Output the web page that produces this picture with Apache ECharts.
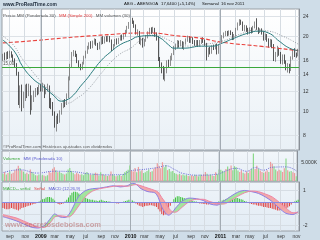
<!DOCTYPE html>
<html><head><meta charset="utf-8">
<script src="https://cdn.jsdelivr.net/npm/echarts@6/dist/echarts.min.js"></script>
<style>html,body{margin:0;padding:0;background:#cfdde8}#c{width:320px;height:240px}</style>
</head><body><div id="c"></div>
<script>
// ---- data ----
const firstWeek = [2008, 7, 4];   // Monday 4 Aug 2008, weekly bars
const weekCount = 172;
const monthNames = ['ene','feb','mar','abr','may','jun','jul','ago','sep','oct','nov','dic'];
// [open, close, low, high]
const ohlc = [
[16.2,16.8,15.9,17.0],[16.8,16.3,16.0,17.2],[16.3,16.9,16.1,17.3],[16.9,16.5,16.2,17.4],[16.5,17.2,16.3,17.5],
[17.2,16.6,16.4,17.4],[16.6,16.1,15.8,16.9],[16.1,15.3,15.0,16.3],[15.3,14.2,13.9,15.6],[14.2,11.0,10.6,14.4],
[11.0,12.2,10.3,12.7],[12.2,10.6,10.0,12.8],[10.6,11.6,10.3,12.0],[11.6,12.5,11.0,12.8],[12.5,12.0,11.3,12.9],
[12.0,12.6,11.5,12.9],[12.6,10.4,9.7,12.7],[10.4,11.3,10.1,11.6],[11.3,11.8,10.9,12.1],[11.8,12.2,11.4,12.4],
[12.2,11.9,11.6,12.5],[11.9,12.6,11.7,12.8],[12.6,12.3,12.0,12.9],[12.3,12.7,12.0,13.0],[12.7,12.1,11.3,12.8],
[12.1,12.4,11.7,12.5],[12.4,12.6,12.0,12.9],[12.6,11.0,10.3,12.7],[11.0,10.6,10.2,11.3],[10.6,9.8,9.6,10.9],
[9.8,8.8,8.6,10.0],[8.8,9.4,8.3,9.6],[9.4,9.2,8.9,9.8],[9.2,9.9,9.0,10.1],[9.9,10.6,9.7,10.8],
[10.6,10.9,10.3,11.1],[10.9,10.7,10.4,11.2],[10.7,11.4,10.6,11.8],[11.4,13.5,11.3,13.8],[13.5,15.2,13.3,15.5],
[15.2,16.9,15.0,17.3],[16.9,17.2,16.6,17.6],[17.2,16.9,16.5,17.5],[16.9,15.9,15.6,17.0],[15.9,15.4,14.9,16.0],
[15.4,14.9,14.6,15.5],[14.9,15.6,14.7,15.8],[15.6,16.5,15.4,16.7],[16.5,17.3,16.3,17.5],[17.3,18.0,17.0,18.3],
[18.0,18.6,17.7,18.9],[18.6,18.2,17.8,19.1],[18.2,18.9,17.9,19.2],[18.9,19.3,18.5,19.6],[19.3,18.6,18.3,19.5],
[18.6,17.9,17.6,18.8],[17.9,18.8,17.7,19.0],[18.8,19.5,18.5,19.9],[19.5,19.0,18.6,20.0],[19.0,19.6,18.7,19.9],
[19.6,19.3,19.0,20.0],[19.3,19.8,19.0,20.1],[19.8,19.2,18.9,20.0],[19.2,17.8,17.4,19.4],[17.8,18.4,17.6,18.6],
[18.4,19.2,18.2,19.5],[19.2,18.8,18.5,19.6],[18.8,19.5,18.6,19.7],[19.5,19.9,19.2,20.2],[19.9,19.6,19.2,20.3],
[19.6,20.1,19.4,20.4],[20.1,20.9,19.9,21.2],[20.9,21.7,20.6,22.0],[21.7,22.5,21.4,22.8],[22.5,23.2,22.1,23.6],
[23.2,22.9,22.4,23.7],[22.9,22.0,21.6,23.1],[22.0,20.6,20.3,22.3],[20.6,20.9,20.1,21.3],[20.9,19.0,18.6,21.0],
[19.0,19.5,18.4,19.8],[19.5,18.5,18.0,19.7],[18.5,19.2,18.2,19.5],[19.2,19.9,19.0,20.2],[19.9,20.6,19.6,20.9],
[20.6,21.2,20.3,21.6],[21.2,20.8,20.4,21.7],[20.8,21.4,20.6,21.8],[21.4,20.3,19.9,21.6],[20.3,19.8,19.2,20.7],
[19.8,16.2,15.9,20.0],[16.2,15.4,14.9,16.5],[15.4,15.0,14.2,15.7],[15.0,14.0,13.4,15.2],[14.0,14.6,13.2,14.9],
[14.6,15.8,14.2,16.0],[15.8,15.4,15.0,16.1],[15.4,16.4,15.2,16.7],[16.4,16.9,16.0,17.1],[16.9,18.0,16.8,18.3],
[18.0,18.3,17.6,18.6],[18.3,18.9,17.9,19.3],[18.9,18.5,18.0,19.2],[18.5,19.0,18.2,19.3],[19.0,18.2,17.8,19.1],
[18.2,18.8,17.6,19.0],[18.8,19.4,18.5,19.6],[19.4,19.8,19.0,20.1],[19.8,19.1,18.8,20.0],[19.1,19.6,18.8,19.9],
[19.6,19.0,18.6,19.8],[19.0,18.6,18.3,19.3],[18.6,19.1,18.2,19.3],[19.1,18.5,18.1,19.3],[18.5,19.0,18.2,19.3],
[19.0,19.5,18.6,19.7],[19.5,19.2,18.8,19.8],[19.2,18.6,18.3,19.4],[18.6,17.2,16.0,18.8],[17.2,17.8,16.5,18.0],
[17.8,17.3,16.9,18.1],[17.3,18.2,17.0,18.4],[18.2,18.0,17.6,18.5],[18.0,18.4,17.7,18.6],[18.4,17.2,16.9,18.7],
[17.2,18.3,17.0,18.5],[18.3,19.2,18.0,19.4],[19.2,19.9,18.9,20.2],[19.9,20.4,19.6,20.7],[20.4,20.8,20.0,21.0],
[20.8,20.3,20.0,21.0],[20.3,20.9,20.1,21.1],[20.9,20.5,20.2,21.1],[20.5,19.6,19.3,20.8],[19.6,20.1,19.3,20.4],
[20.1,21.3,19.9,21.6],[21.3,22.4,21.1,22.7],[22.4,23.0,22.0,23.4],[23.0,22.6,22.2,23.3],[22.6,21.3,21.0,22.9],
[21.3,21.9,20.9,22.2],[21.9,21.2,20.8,22.1],[21.2,20.6,20.3,21.6],[20.6,21.4,20.4,21.7],[21.4,20.9,20.5,21.7],
[20.9,21.8,20.6,22.0],[21.8,22.5,21.5,22.9],[22.5,21.5,21.2,23.6],[21.5,21.0,20.4,21.7],[21.0,21.3,20.6,21.5],
[21.3,20.7,20.3,21.5],[20.7,19.6,19.2,20.9],[19.6,20.2,19.3,20.5],[20.2,19.3,19.0,20.4],[19.3,18.4,18.0,19.6],
[18.4,19.2,18.1,19.5],[19.2,18.3,17.9,19.4],[18.3,16.2,15.9,18.6],[16.2,16.9,15.8,17.3],[16.9,17.8,16.5,18.3],
[17.8,17.1,16.7,18.0],[17.1,16.0,15.5,17.3],[16.0,16.6,15.4,16.9],[16.6,15.8,15.5,16.9],[15.8,14.9,14.6,16.0],
[14.9,15.3,14.3,15.6],[15.3,14.6,14.2,15.5],[14.6,16.3,14.5,16.6],[16.3,17.3,16.1,17.7],[17.3,16.8,16.5,17.9],
[16.8,16.78,16.4,17.2],[16.78,17.64,16.6,17.8]
];
// weekly volume, thousands of shares
const volume = [
2000,2500,1800,2200,2600,2000,2300,3000,3400,4200,
3600,3000,2600,2000,2300,1900,3200,2500,2000,1600,
1500,1800,1400,1700,1500,1300,1600,2600,2300,3400,
3800,3000,2400,2600,2200,2000,1800,2100,3200,3600,
2800,2200,1900,2300,2000,1700,1900,1600,2200,2500,
2000,1800,1700,2000,2300,2100,1500,2400,1900,1700,
1500,1400,1600,2600,1800,1500,1300,1500,1700,1400,
1900,2400,2800,3100,4300,3000,2600,3600,2400,3900,
2700,3000,2200,2400,2800,3200,2500,2700,3400,3800,
4900,4200,3500,5200,3800,4400,3000,3300,2600,2800,
2200,2000,1800,2000,1600,1800,1500,1700,1400,1300,
1600,1400,1700,1500,1300,1800,1500,1900,2500,2000,
1600,1800,1500,1400,2400,1900,3200,3100,2800,2500,
3300,4000,3400,4300,3000,4100,3800,2900,2500,3000,
2300,2100,2600,2200,2900,3300,7600,3300,4200,3300,
2900,2500,2200,2600,3000,2500,5300,4800,4100,3200,
2700,3100,2900,2500,3500,6200,3000,2600,2800,2400,
2200,1295
];
// moving averages: [week index, value]
const wma30 = [[0,19.3],[4,18.24],[8,16.83],[11,15.3],[17,13.58],[23,12.61],[29,11.64],[34,10.98],[37,11.11],[41,11.64],[45,12.61],[49,13.58],[52,14.48],[57,16.0],[62,17.2],[68,18.5],[74,19.3],[78,19.9],[86,20.1],[91,19.7],[96,18.46],[99,17.91],[105,17.91],[115,18.24],[121,18.24],[127,18.76],[134,19.64],[142,20.57],[148,20.95],[154,20.57],[160,19.11],[166,17.91],[171,17.5]];
const sma200 = [[0,18.8],[10,19.0],[57,20.2],[86,20.6],[100,20.1],[115,19.6],[127,18.9],[150,18.2],[171,17.5]];
const vwma30 = [[0,20.0],[6,18.46],[11,16.33],[17,14.48],[23,12.96],[29,11.82],[34,11.11],[37,10.78],[43,11.29],[49,12.19],[57,14.2],[62,15.6],[68,17.0],[74,17.9],[80,19.3],[88,20.2],[96,19.3],[102,18.46],[111,18.24],[115,18.46],[127,19.11],[139,20.57],[146,21.15],[154,20.95],[162,20.01],[168,19.11],[171,18.59]];
const volMa10 = [[0,2300],[10,3100],[20,2200],[30,2700],[40,2600],[50,2000],[60,1700],[70,1800],[75,2900],[80,3100],[90,3700],[95,4200],[100,3200],[105,2100],[115,1600],[125,1900],[130,2800],[136,3500],[142,2700],[147,3700],[152,3000],[157,3800],[165,3900],[171,2800]];
// MACD (12,26,9): knots at week indices
const macdIdx    = [0,4,8,12,16,20,24,28,30,33,36,38,40,44,48,52,56,60,64,68,72,75,77,80,84,88,90,92,94,96,98,100,104,108,112,116,120,124,128,132,136,140,144,148,152,156,160,164,168,171];
const macdLine   = [-1.23,-1.4,-1.6,-1.85,-2.1,-2.2,-2.0,-1.3,-1.0,-1.25,-1.3,-1.1,-0.6,0.5,1.0,1.15,1.2,1.3,1.4,1.3,1.4,1.6,1.55,1.15,0.9,0.8,0.4,-0.4,-0.9,-1.1,-0.9,-0.5,0.1,0.35,0.3,0.15,-0.15,-0.25,0.1,0.5,0.85,1.0,0.9,0.75,0.45,0.05,-0.5,-0.95,-1.05,-0.8];
const signalLine = [-1.05,-1.2,-1.35,-1.6,-1.85,-2.1,-2.15,-1.65,-1.25,-1.15,-1.2,-1.25,-1.1,-0.3,0.5,0.95,1.15,1.25,1.35,1.4,1.35,1.45,1.5,1.4,1.2,1.0,0.85,0.4,0.0,-0.5,-0.8,-0.85,-0.4,0.05,0.25,0.25,0.05,-0.1,-0.15,0.15,0.5,0.8,0.95,0.9,0.7,0.45,0.0,-0.5,-0.9,-0.9];
const histogram = [
-0.5,-0.55,-0.6,-0.6,-0.55,-0.5,-0.55,-0.6,-0.65,-0.7,
-0.6,-0.5,-0.45,-0.4,-0.35,-0.3,-0.25,-0.2,-0.15,-0.1,
-0.05,0.05,0.15,0.25,0.3,0.4,0.45,0.45,0.4,0.3,
0.15,-0.05,-0.15,-0.2,-0.15,-0.1,0.05,0.2,0.4,0.6,
0.8,0.9,0.9,0.85,0.75,0.65,0.55,0.45,0.35,0.3,
0.25,0.2,0.2,0.15,0.15,0.1,0.15,0.2,0.15,0.1,
0.1,0.05,0.05,0.0,-0.05,-0.05,-0.1,-0.1,-0.05,0.0,
0.05,0.1,0.15,0.2,0.2,0.15,0.05,-0.1,-0.2,-0.3,
-0.35,-0.4,-0.35,-0.3,-0.3,-0.25,-0.25,-0.3,-0.35,-0.4,
-0.6,-0.8,-1.0,-1.1,-1.05,-0.9,-0.6,-0.3,0.0,0.25,
0.4,0.5,0.5,0.45,0.4,0.35,0.3,0.25,0.2,0.15,
0.1,0.05,0.05,-0.05,-0.1,-0.1,-0.15,-0.15,-0.2,-0.2,
-0.15,-0.15,-0.1,-0.1,-0.05,0.05,0.1,0.15,0.2,0.25,
0.3,0.35,0.35,0.3,0.3,0.35,0.35,0.3,0.25,0.2,
0.1,0.05,-0.05,-0.1,-0.15,-0.2,-0.2,-0.25,-0.3,-0.3,
-0.35,-0.4,-0.4,-0.45,-0.5,-0.5,-0.55,-0.6,-0.65,-0.7,
-0.7,-0.65,-0.6,-0.55,-0.5,-0.45,-0.35,-0.2,-0.05,0.05,
0.12,0.2
];
const priceTicks = [8,10,12,14,16,20,24];
const supportLevel = 15;
const volTicks = [5000];
const macdTicks = [1,0,-1,-2];
const macdLabelTicks = [1,-2];

// ---- build ----
const dates = [];
for (let i = 0; i < weekCount; i++) {
  const d = new Date(Date.UTC(firstWeek[0], firstWeek[1], firstWeek[2] + 7 * i));
  dates.push(d.toISOString().slice(0, 10));
}
const toDate = s => new Date(s + 'T00:00:00Z');
const isLabelWeek = idx => { const d = toDate(dates[idx]); return d.getUTCDate() <= 7 && d.getUTCMonth() % 2 === 0; };
const yearCats = dates.filter(s => { const d = toDate(s); return d.getUTCMonth() === 0 && d.getUTCDate() <= 7; });
const yearLines = yearCats.map(c => ({ xAxis: c, label: { show: false }, lineStyle: { color: '#a3abb3', width: 1, type: 'solid' } }));
const FONT = 'Liberation Sans';

const volData = volume.map((v, i) => {
  const up = i === 0 ? ohlc[i][1] >= ohlc[i][0] : ohlc[i][1] >= ohlc[i - 1][1];
  return { value: v, itemStyle: { color: up ? '#8bd98b' : '#ec9c9c' } };
});
const histData = histogram.map(v => ({ value: v, itemStyle: { color: v >= 0 ? '#39c239' : '#e04444' } }));
const bandBase = macdIdx.map((x, k) => [x, Math.min(macdLine[k], signalLine[k])]);
const bandUp = macdIdx.map((x, k) => [x, Math.max(macdLine[k] - signalLine[k], 0)]);
const bandDown = macdIdx.map((x, k) => [x, Math.max(signalLine[k] - macdLine[k], 0)]);
const macdPts = macdIdx.map((x, k) => [x, macdLine[k]]);
const sigPts = macdIdx.map((x, k) => [x, signalLine[k]]);

function boxLabel(text, bg) {
  return { show: true, position: 'end', distance: -2, formatter: text, fontSize: 4.6, fontFamily: FONT,
    color: '#222', backgroundColor: bg, borderColor: '#8a8a8a', borderWidth: 0.5, padding: [1, 1, 0, 1] };
}
const hidden = { opacity: 0 };
const gradBg = (a, b) => ({ type: 'linear', x: 0, y: 0, x2: 0, y2: 1, colorStops: [{ offset: 0, color: a }, { offset: 1, color: b }] });

const xBase = gi => ({
  type: 'category', gridIndex: gi, data: dates, boundaryGap: true,
  axisLine: { show: false }, axisTick: { show: false },
  axisLabel: gi === 2 ? {
    show: true, interval: isLabelWeek, fontSize: 4.8, fontFamily: FONT, color: '#333', margin: 3,
    formatter: v => { const d = toDate(v); const m = d.getUTCMonth(); return m === 0 ? '{y|' + d.getUTCFullYear() + '}' : monthNames[m]; },
    rich: { y: { fontSize: 5.3, fontWeight: 'bold', color: '#111', fontFamily: FONT } }
  } : { show: false },
  splitLine: { show: true, interval: isLabelWeek, lineStyle: { color: '#d6dce2', width: 1 } }
});
const yLabel = { fontSize: 5, fontFamily: FONT, color: '#333', margin: 4 };
const hdrStyle = t => ({ text: t, fontSize: 4.3, fontFamily: FONT, fill: '#111' });

const option = {
  animation: false,
  backgroundColor: '#cfdde8',
  grid: [
    { left: 2, right: 21, top: 9, height: 141, show: true, backgroundColor: gradBg('#ffffff', '#e9f0f6'), borderColor: '#9aa0a6', borderWidth: 1 },
    { left: 2, right: 21, top: 151, height: 30, show: true, backgroundColor: gradBg('#f3f7fb', '#e4edf5'), borderColor: '#9aa0a6', borderWidth: 1 },
    { left: 2, right: 21, top: 182, height: 49, show: true, backgroundColor: gradBg('#eef4f9', '#e2ebf4'), borderColor: '#9aa0a6', borderWidth: 1 }
  ],
  xAxis: [xBase(0), xBase(1), xBase(2)],
  yAxis: [
    { gridIndex: 0, type: 'log', logBase: 10, min: 7, max: 25.7, position: 'right',
      axisLine: { show: true, lineStyle: { color: '#8a9098' } },
      axisTick: { show: false, customValues: priceTicks },
      axisLabel: Object.assign({ customValues: priceTicks, formatter: v => String(Math.round(v)) }, yLabel),
      splitLine: { show: true, lineStyle: { color: '#dde2e7' } } },
    { gridIndex: 1, type: 'value', min: 0, max: 8300, position: 'right',
      axisLine: { show: true, lineStyle: { color: '#8a9098' } },
      axisTick: { show: false, customValues: volTicks },
      axisLabel: Object.assign({ customValues: volTicks, formatter: v => (v / 1000).toFixed(3) + 'K' }, yLabel),
      splitLine: { show: true, lineStyle: { color: '#d6dde4' } } },
    { gridIndex: 2, type: 'value', min: -2.45, max: 1.72, position: 'right',
      axisLine: { show: true, lineStyle: { color: '#8a9098' } },
      axisTick: { show: false, customValues: macdTicks },
      axisLabel: Object.assign({ customValues: macdLabelTicks, formatter: v => String(v) }, yLabel),
      splitLine: { show: true, lineStyle: { color: '#d6dde4' } } }
  ],
  series: [
    { type: 'candlestick', xAxisIndex: 0, yAxisIndex: 0, data: ohlc, barWidth: 1.2,
      itemStyle: { color: '#ffffff', color0: '#111111', borderColor: '#606060', borderColor0: '#111111', borderWidth: 0.7 },
      markLine: { silent: true, symbol: ['none', 'none'], animation: false,
        data: yearLines.concat([
          { yAxis: supportLevel, lineStyle: { color: '#3aa83a', width: 1, type: 'solid' },
            label: { show: true, position: 'insideStartTop', formatter: '15,00', fontSize: 4.5, fontFamily: FONT, color: '#555', distance: 1 } },
          { yAxis: 18.593, lineStyle: hidden, label: boxLabel('18,593', '#e4e4e4') },
          { yAxis: 17.64, lineStyle: hidden, label: boxLabel('17,6400', '#f5ea00') }
        ]) } },
    { type: 'line', xAxisIndex: 0, yAxisIndex: 0, data: sma200, smooth: true, symbol: 'none',
      lineStyle: { color: '#e8413c', width: 1.1, type: [4, 2] } },
    { type: 'line', xAxisIndex: 0, yAxisIndex: 0, data: vwma30, smooth: true, symbol: 'none',
      lineStyle: { color: '#8e959c', width: 0.9, type: [1, 1.5] } },
    { type: 'line', xAxisIndex: 0, yAxisIndex: 0, data: wma30, smooth: true, symbol: 'none',
      lineStyle: { color: '#2a7c7e', width: 1 } },

    { type: 'bar', xAxisIndex: 1, yAxisIndex: 1, data: volData, barWidth: 1.2,
      markLine: { silent: true, symbol: ['none', 'none'], animation: false,
        data: yearLines.concat([
          { yAxis: 2810, lineStyle: hidden, label: boxLabel('2.810K', '#e4e4e4') },
          { yAxis: 1295, lineStyle: hidden, label: boxLabel('1.295K', '#f5ea00') }
        ]) } },
    { type: 'line', xAxisIndex: 1, yAxisIndex: 1, data: volMa10, smooth: true, symbol: 'none',
      lineStyle: { color: '#6c6cd8', width: 1, type: [1, 1.2] } },

    { type: 'line', xAxisIndex: 2, yAxisIndex: 2, data: bandBase, stack: 'band', stackStrategy: 'all', smooth: 0.3, symbol: 'none', lineStyle: { width: 0 }, silent: true },
    { type: 'line', xAxisIndex: 2, yAxisIndex: 2, data: bandUp, stack: 'band', stackStrategy: 'all', smooth: 0.3, symbol: 'none', lineStyle: { width: 0 }, areaStyle: { color: '#9fe39a', opacity: 0.95 }, silent: true },
    { type: 'line', xAxisIndex: 2, yAxisIndex: 2, data: bandDown, stack: 'band', stackStrategy: 'all', smooth: 0.3, symbol: 'none', lineStyle: { width: 0 }, areaStyle: { color: '#f2a4a4', opacity: 0.95 }, silent: true },
    { type: 'bar', xAxisIndex: 2, yAxisIndex: 2, data: histData, barWidth: 1,
      markLine: { silent: true, symbol: ['none', 'none'], animation: false,
        data: yearLines.concat([
          { yAxis: 0, label: { show: false }, lineStyle: { color: '#8a8ae0', width: 1, type: 'solid' } },
          { yAxis: 0.092, lineStyle: hidden, label: boxLabel('0,092', '#e4e4e4') },
          { yAxis: -0.817, lineStyle: hidden, label: boxLabel('-0,817', '#f6c9c9') }
        ]) } },
    { type: 'line', xAxisIndex: 2, yAxisIndex: 2, data: macdPts, smooth: 0.3, symbol: 'none', lineStyle: { color: '#8c7fe6', width: 1 } },
    { type: 'line', xAxisIndex: 2, yAxisIndex: 2, data: sigPts, smooth: 0.3, symbol: 'none', lineStyle: { color: '#ef86a6', width: 1 } }
  ],
  graphic: [
    { type: 'text', left: 3, top: 2, z: 100, style: { text: 'www.ProRealTime.com', fontSize: 4.9, fontWeight: 'bold', fontFamily: FONT, fill: '#1d2a3a' } },
    { type: 'text', left: 124, top: 2, z: 100, style: hdrStyle('ABG - ABENGOA') },
    { type: 'text', left: 161, top: 2, z: 100, style: hdrStyle('17,6400 (+5,14%)') },
    { type: 'text', left: 202, top: 2, z: 100, style: hdrStyle('Semanal') },
    { type: 'text', left: 221, top: 2, z: 100, style: hdrStyle('16 nov 2011') },
    { type: 'text', left: 3, top: 10, z: 100, style: { text: '{a|Precio MM (Ponderada 30)} {r|MM (Simple 200)} {a|MM volumen (30)}',
      rich: { a: { fontSize: 4.4, fontFamily: FONT, fill: '#555' }, r: { fontSize: 4.4, fontFamily: FONT, fill: '#e33b3b' } } } },
    { type: 'text', left: 3, top: 145, z: 100, style: { text: '©ProRealTime.com Históricos ajustados con dividendos', fontSize: 4.4, fontFamily: FONT, fill: '#555' } },
    { type: 'text', left: 3, top: 152.5, z: 100, style: { text: '{g|Volumen} {b|MM (Ponderada 10)}',
      rich: { g: { fontSize: 4.4, fontFamily: FONT, fill: '#3aa83a' }, b: { fontSize: 4.4, fontFamily: FONT, fill: '#5a5ad0' } } } },
    { type: 'text', left: 3, top: 182.5, z: 100, style: { text: '{g|MACD-- señal} {r|Señal} {b|MACD (12,26,9)}',
      rich: { g: { fontSize: 4.4, fontFamily: FONT, fill: '#3aa83a' }, r: { fontSize: 4.4, fontFamily: FONT, fill: '#e04848' }, b: { fontSize: 4.4, fontFamily: FONT, fill: '#5a5ad0' } } } },
    { type: 'text', left: 5, top: 221, z: 100, style: { text: 'www.secretosdebolsa.com', fontSize: 7.5, fontWeight: 'bold', fontFamily: FONT, fill: 'rgba(180,100,100,0.55)' } }
  ]
};
const chart = echarts.init(document.getElementById('c'), null, { renderer: 'canvas', width: 320, height: 240 });
chart.setOption(option);
</script>
</body></html>
